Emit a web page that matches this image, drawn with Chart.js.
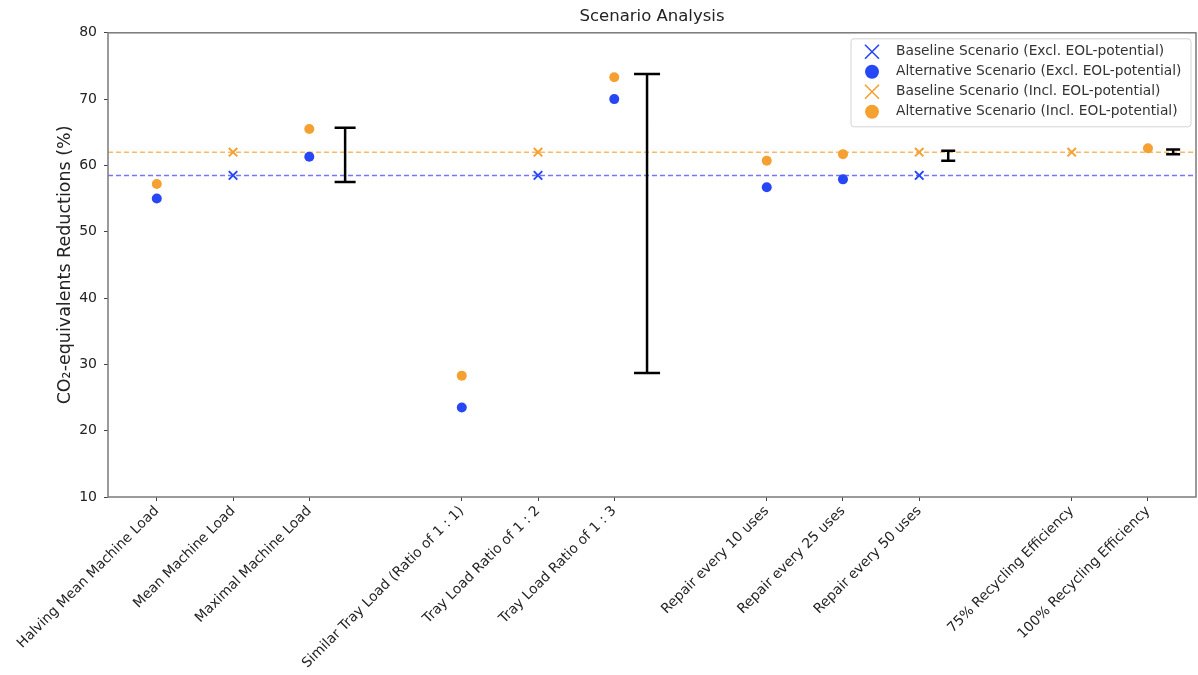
<!DOCTYPE html>
<html>
<head>
<meta charset="utf-8">
<script src="https://cdn.jsdelivr.net/npm/chart.js"></script>
<style>
  body { margin: 0; background: #fff; }
  #wrap { width: 1198px; height: 675px; }
</style>
</head>
<body>
<div id="wrap"><canvas id="chartCanvas" width="1198" height="675"></canvas></div>
<script>
// categories and where they sit on the x axis (gaps between groups)
const categories = [
  "Halving Mean Machine Load", "Mean Machine Load", "Maximal Machine Load",
  "Similar Tray Load (Ratio of 1 : 1)", "Tray Load Ratio of 1 : 2", "Tray Load Ratio of 1 : 3",
  "Repair every 10 uses", "Repair every 25 uses", "Repair every 50 uses",
  "75% Recycling Efficiency", "100% Recycling Efficiency"
];
const catPos = [0, 1, 2, 4, 5, 6, 8, 9, 10, 12, 13];

// values (null = no marker)
const baseExcl = [null, 58.5, null, null, 58.5, null, null, null, 58.5, null, null];
const altExcl  = [55.0, null, 61.3, 23.5, null, 70.0, 56.7, 57.9, null, null, null];
const baseIncl = [null, 62.0, null, null, 62.0, null, null, null, 62.0, 62.0, null];
const altIncl  = [57.2, null, 65.5, 28.3, null, 73.3, 60.7, 61.7, null, null, 62.6];

// reference lines
const baselineExcl = 58.5;
const baselineIncl = 62.0;

// range bars
const errPos  = [2.47, 6.43, 10.38, 13.33];
const errLow  = [57.5, 28.7, 60.7, 61.7];
const errHigh = [65.7, 73.8, 62.2, 62.4];
const errCap  = [10.5, 13, 7, 7];

const yTicks = [10, 20, 30, 40, 50, 60, 70, 80];
const xMin = -0.64, xMax = 13.63;

const BLUE = '#2747f5';
const ORANGE = '#f5a132';
const FONT = "'DejaVu Sans', sans-serif";

function pts(vals) {
  const out = [];
  vals.forEach((v, i) => { if (v !== null) out.push({ x: catPos[i], y: v }); });
  return out;
}

const errData = [];
const errRadius = [];
errPos.forEach((x, i) => {
  errData.push({ x: x, y: errLow[i] }, { x: x, y: errHigh[i] }, { x: x, y: null });
  errRadius.push(errCap[i], errCap[i], 0);
});

const legendItems = [
  { label: "Baseline Scenario (Excl. EOL-potential)", color: BLUE, style: 'cross' },
  { label: "Alternative Scenario (Excl. EOL-potential)", color: BLUE, style: 'circle' },
  { label: "Baseline Scenario (Incl. EOL-potential)", color: ORANGE, style: 'cross' },
  { label: "Alternative Scenario (Incl. EOL-potential)", color: ORANGE, style: 'circle' }
];

const framePlugin = {
  id: 'frame',
  afterDraw(chart) {
    const { ctx, chartArea: a } = chart;
    ctx.save();
    ctx.strokeStyle = '#7a7a7a';
    ctx.lineWidth = 1.5;
    ctx.strokeRect(a.left, a.top, a.right - a.left, a.bottom - a.top);

    // legend box inside top-right corner
    const bx = a.right - 345, by = a.top + 6, bw = 340, bh = 88;
    ctx.fillStyle = 'rgba(255,255,255,0.85)';
    ctx.strokeStyle = '#d4d4d4';
    ctx.lineWidth = 1;
    ctx.beginPath();
    ctx.roundRect(bx, by, bw, bh, 3);
    ctx.fill();
    ctx.stroke();
    ctx.font = "13.8px " + FONT;
    ctx.textBaseline = 'middle';
    legendItems.forEach((it, i) => {
      const cy = by + 13 + i * 20;
      const cx = bx + 21;
      ctx.strokeStyle = it.color;
      ctx.fillStyle = it.color;
      if (it.style === 'circle') {
        ctx.beginPath();
        ctx.arc(cx, cy, 7, 0, Math.PI * 2);
        ctx.fill();
      } else {
        ctx.lineWidth = 1.6;
        ctx.beginPath();
        ctx.moveTo(cx - 7, cy - 7); ctx.lineTo(cx + 7, cy + 7);
        ctx.moveTo(cx - 7, cy + 7); ctx.lineTo(cx + 7, cy - 7);
        ctx.stroke();
      }
      ctx.fillStyle = '#333';
      ctx.fillText(it.label, bx + 45, cy);
    });
    ctx.restore();
  }
};

new Chart(document.getElementById('chartCanvas').getContext('2d'), {
  type: 'scatter',
  data: {
    datasets: [
      {
        label: 'Range', type: 'line', data: errData,
        borderColor: '#000', borderWidth: 2.5, spanGaps: false,
        pointStyle: 'line', pointRadius: errRadius, pointBorderWidth: 2.5,
        pointBorderColor: '#000'
      },
      {
        label: legendItems[0].label, data: pts(baseExcl),
        pointStyle: 'crossRot', pointRadius: 6, borderColor: BLUE, pointBorderWidth: 2
      },
      {
        label: legendItems[1].label, data: pts(altExcl),
        pointStyle: 'circle', pointRadius: 5, backgroundColor: BLUE, borderColor: BLUE, pointBorderWidth: 0
      },
      {
        label: legendItems[2].label, data: pts(baseIncl),
        pointStyle: 'crossRot', pointRadius: 6, borderColor: ORANGE, pointBorderWidth: 2
      },
      {
        label: legendItems[3].label, data: pts(altIncl),
        pointStyle: 'circle', pointRadius: 5, backgroundColor: ORANGE, borderColor: ORANGE, pointBorderWidth: 0
      },
      {
        label: 'Baseline Incl', type: 'line',
        data: [{ x: xMin, y: baselineIncl }, { x: xMax, y: baselineIncl }],
        borderColor: 'rgba(245,161,50,0.75)', borderWidth: 1.5, borderDash: [5, 3], pointRadius: 0
      },
      {
        label: 'Baseline Excl', type: 'line',
        data: [{ x: xMin, y: baselineExcl }, { x: xMax, y: baselineExcl }],
        borderColor: 'rgba(70,70,255,0.75)', borderWidth: 1.5, borderDash: [5, 3], pointRadius: 0
      }
    ]
  },
  options: {
    responsive: false,
    animation: false,
    layout: { autoPadding: false, padding: { left: 0, right: 2, top: 0, bottom: 0 } },
    plugins: {
      legend: { display: false },
      tooltip: { enabled: false },
      title: {
        display: true, text: 'Scenario Analysis', fullSize: false,
        color: '#222', font: { family: FONT, size: 16.5, weight: 'normal' },
        padding: { top: 7, bottom: 6 }
      }
    },
    scales: {
      x: {
        type: 'linear', min: xMin, max: xMax,
        afterBuildTicks: axis => { axis.ticks = catPos.map(v => ({ value: v })); },
        afterFit: axis => { axis.height = 178; axis.paddingLeft = 0; axis.paddingRight = 0; },
        grid: { drawOnChartArea: false, drawTicks: true, tickLength: 4, color: '#444' },
        border: { display: false },
        ticks: {
          autoSkip: false, minRotation: 45, maxRotation: 45, padding: 2,
          color: '#222', font: { family: FONT, size: 13.8 },
          callback: v => categories[catPos.indexOf(v)]
        }
      },
      y: {
        min: 10, max: 80,
        afterBuildTicks: axis => { axis.ticks = yTicks.map(v => ({ value: v })); },
        afterFit: axis => { axis.width = 108; },
        grid: { drawOnChartArea: false, drawTicks: true, tickLength: 4, color: '#444' },
        border: { display: false },
        ticks: { color: '#222', font: { family: FONT, size: 14 }, padding: 7 },
        title: {
          display: true, text: 'CO\u2082-equivalents Reductions (%)',
          color: '#222', font: { family: FONT, size: 17.5 }, padding: { top: 55, bottom: 0 }
        }
      }
    }
  },
  plugins: [framePlugin]
});
</script>
</body>
</html>
